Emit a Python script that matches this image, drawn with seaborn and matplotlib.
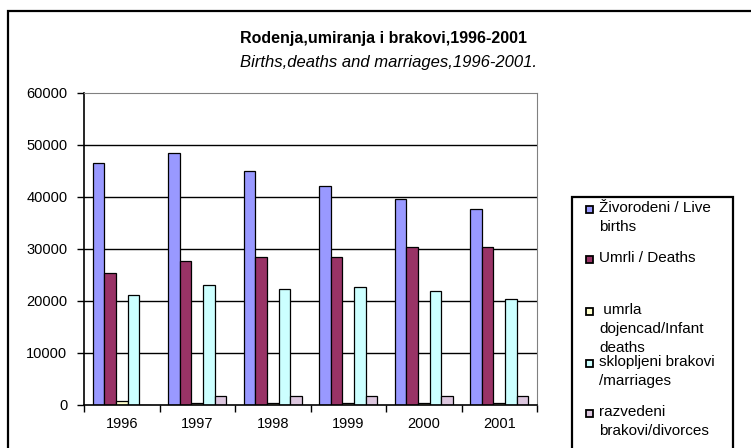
import numpy as np
import pandas as pd
import matplotlib
matplotlib.use('Agg')
import matplotlib.pyplot as plt
import seaborn as sns
from matplotlib.patches import Rectangle

# podaci ocitani sa slike
godine = ['1996', '1997', '1998', '1999', '2000', '2001']
zivorodeni = [46500, 48400, 45000, 42200, 39600, 37700]
umrli = [25300, 27600, 28400, 28400, 30300, 30300]
umrla_dojencad = [700, 300, 300, 300, 300, 300]
sklopljeni_brakovi = [21100, 23000, 22300, 22700, 21900, 20400]
razvedeni_brakovi = [0, 1800, 1800, 1800, 1800, 1800]

serije = ['Živorodeni / Live\nbirths', 'Umrli / Deaths',
          ' umrla\ndojencad/Infant\ndeaths', 'sklopljeni brakovi\n/marriages',
          'razvedeni\nbrakovi/divorces']
boje = ['#9999FF', '#993366', '#FFFFCC', '#CCFFFF', '#DCC6DE']

vrijednosti = [zivorodeni, umrli, umrla_dojencad, sklopljeni_brakovi, razvedeni_brakovi]
df = pd.DataFrame({
    'godina': np.tile(godine, len(serije)),
    'serija': np.repeat(serije, len(godine)),
    'broj': np.concatenate(vrijednosti),
})

sns.set_style('white')
plt.rcParams['font.family'] = ['Liberation Sans', 'DejaVu Sans']
plt.rcParams['text.color'] = 'black'
plt.rcParams['xtick.color'] = 'black'
plt.rcParams['ytick.color'] = 'black'

W, H = 751, 448
fig = plt.figure(figsize=(W / 100, H / 100), dpi=100)
ax = fig.add_axes([84/W, 1-405/H, (537-84)/W, (405-93)/H])

sns.barplot(data=df, x='godina', y='broj', hue='serija', palette=boje, saturation=1,
            width=0.77, edgecolor='black', linewidth=0.9, ax=ax, legend=False)

ax.set_ylim(0, 60000)
ax.set_xlim(-0.5, 5.5)
ax.set_yticks(range(0, 60001, 10000))
ax.set_yticklabels([str(v) for v in range(0, 60001, 10000)], fontsize=10.5)
for v in range(10000, 60000, 10000):
    ax.axhline(v, color='black', lw=1, zorder=0)

# kvacice izmedju kategorija, oznake u sredini
ax.set_xticks(np.arange(-0.5, 6, 1))
ax.set_xticklabels([])
ax.set_xticks(range(6), minor=True)
ax.set_xticklabels(godine, minor=True, fontsize=10.5)
ax.tick_params(axis='x', which='major', direction='out', length=5, width=1, bottom=True)
ax.tick_params(axis='x', which='minor', length=0, pad=9)
ax.tick_params(axis='y', direction='out', length=5, width=1, left=True, pad=7)
ax.set_xlabel('')
ax.set_ylabel('')

ax.spines['left'].set_color('black')
ax.spines['bottom'].set_color('black')
ax.spines['left'].set_linewidth(1.2)
ax.spines['bottom'].set_linewidth(1.2)
ax.spines['top'].set_color('#808080')
ax.spines['right'].set_color('#808080')

# legenda (rucno, kao u Excelu)
fig.patches.append(Rectangle((572/W, -0.05), (733-572)/W, 1-197/H+0.05, transform=fig.transFigure,
                             fill=False, edgecolor='black', linewidth=1.6))
prvi_red = [209, 259, 311, 363, 413]
for ime, boja, y in zip(serije, boje, prvi_red):
    fig.patches.append(Rectangle((586/W, 1-(y+4)/H), 7/W, 7/H, transform=fig.transFigure,
                                 facecolor=boja, edgecolor='black', linewidth=1.3))
    fig.text(599/W, 1-(y-8)/H, ime, ha='left', va='top', fontsize=11, linespacing=1.45)

# naslovi
fig.text(384/W, 1-38/H, 'Rodenja,umiranja i brakovi,1996-2001', ha='center', va='center',
         fontsize=11.5, fontweight='bold')
fig.text(388/W, 1-62/H, 'Births,deaths and marriages,1996-2001.', ha='center', va='center',
         fontsize=12, style='italic')

# vanjski okvir
fig.patches.append(Rectangle((8/W, -0.05), 1.05, 1-11/H+0.05, transform=fig.transFigure,
                             fill=False, edgecolor='black', linewidth=1.6))

fig.savefig('out.png', dpi=100)
